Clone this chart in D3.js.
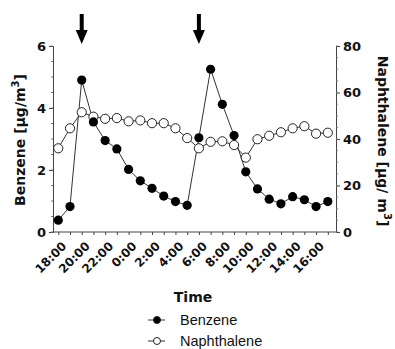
<!DOCTYPE html>
<html><head><meta charset="utf-8">
<script src="https://cdn.jsdelivr.net/npm/d3@7"></script>
<style>body{margin:0;background:#fff}</style>
</head><body>
<script>
const hours = d3.range(24); // 18:00 .. 17:00 hourly
const benzene = [0.38,0.82,4.9,3.55,2.95,2.68,2.02,1.65,1.41,1.16,0.98,0.86,3.04,5.25,4.12,3.11,1.94,1.39,1.06,0.91,1.14,1.04,0.82,0.98];
const naphthalene = [36.0,44.6,51.5,49.6,48.7,49.0,47.6,48.0,46.8,46.8,44.6,40.4,36.0,38.8,39.0,37.4,32.0,39.9,41.4,42.9,44.6,45.5,42.3,42.7];
const xTickLabels = ["18:00","20:00","22:00","0:00","2:00","4:00","6:00","8:00","10:00","12:00","14:00","16:00"];
const leftTicks = [0,2,4,6];
const rightTicks = [0,20,40,60,80];
const arrowHours = [2,12];

const W=395,H=349;
const svg=d3.select("body").append("svg").attr("width",W).attr("height",H);
const x=d3.scaleLinear().domain([-0.45,23.7]).range([53,336]);
const yL=d3.scaleLinear().domain([0,6]).range([232,46]);
const yR=d3.scaleLinear().domain([0,80]).range([232,46]);
const bold="'DejaVu Sans',Verdana,sans-serif";

// axes
const gL=svg.append("g").attr("transform","translate(53,0)")
  .call(d3.axisLeft(yL).tickValues(leftTicks).tickSize(4).tickFormat(d3.format("d")));
const gR=svg.append("g").attr("transform","translate(336,0)")
  .call(d3.axisRight(yR).tickValues(rightTicks).tickSize(4).tickFormat(d3.format("d")));
const gX=svg.append("g").attr("transform","translate(0,232)")
  .call(d3.axisBottom(x).tickValues(hours).tickSize(3).tickFormat(""));
gX.select(".domain").attr("d","M53,0H336");
[gL,gR,gX].forEach(g=>{g.selectAll("path,line").attr("stroke","#444").attr("stroke-width",1);
  g.selectAll("text").attr("font-family",bold).attr("font-weight","bold").attr("font-size",13).attr("fill","#111");});
// minor ticks on y axes
svg.append("g").selectAll("line").data(d3.range(0,6.01,0.5)).join("line")
  .attr("x1",51).attr("x2",53).attr("y1",d=>yL(d)).attr("y2",d=>yL(d)).attr("stroke","#777");
svg.append("g").selectAll("line").data(d3.range(0,80.1,5)).join("line")
  .attr("x1",336).attr("x2",338).attr("y1",d=>yR(d)).attr("y2",d=>yR(d)).attr("stroke","#777");

// x tick labels rotated
svg.append("g").selectAll("text").data(xTickLabels).join("text")
  .attr("transform",(d,i)=>`translate(${x(i*2)+3},${241}) rotate(-45)`)
  .attr("text-anchor","end").attr("font-family",bold).attr("font-weight","bold")
  .attr("font-size",12).attr("fill","#111").attr("dy","0.7em").text(d=>d);

// axis titles
const tl=svg.append("text").attr("transform","translate(25,140) rotate(-90)").attr("text-anchor","middle")
  .attr("font-family",bold).attr("font-weight","bold").attr("font-size",14).attr("fill","#111");
tl.append("tspan").text("Benzene [µg/m");
tl.append("tspan").attr("dy",-6).attr("font-size",10).text("3");
tl.append("tspan").attr("dy",6).text("]");
const tr=svg.append("text").attr("transform","translate(378,141) rotate(90)").attr("text-anchor","middle")
  .attr("font-family",bold).attr("font-weight","bold").attr("font-size",14).attr("fill","#111");
tr.append("tspan").text("Naphthalene [µg/ m");
tr.append("tspan").attr("dy",-6).attr("font-size",10).text("3");
tr.append("tspan").attr("dy",6).text("]");
svg.append("text").attr("x",193).attr("y",302).attr("text-anchor","middle")
  .attr("font-family",bold).attr("font-weight","bold").attr("font-size",14).attr("fill","#111").text("Time");

// lines
const lineB=d3.line().x((d,i)=>x(hours[i])).y(d=>yL(d));
const lineN=d3.line().x((d,i)=>x(hours[i])).y(d=>yR(d));
svg.append("path").attr("d",lineN(naphthalene)).attr("fill","none").attr("stroke","#333").attr("stroke-width",1);
svg.append("path").attr("d",lineB(benzene)).attr("fill","none").attr("stroke","#333").attr("stroke-width",1);
svg.append("g").selectAll("circle").data(naphthalene).join("circle")
  .attr("cx",(d,i)=>x(hours[i])).attr("cy",d=>yR(d)).attr("r",4.6)
  .attr("fill","#fff").attr("stroke","#222").attr("stroke-width",1);
svg.append("g").selectAll("circle").data(benzene).join("circle")
  .attr("cx",(d,i)=>x(hours[i])).attr("cy",d=>yL(d)).attr("r",4.6)
  .attr("fill","#000");

// arrows
arrowHours.forEach(h=>{
  const cx=x(h);
  svg.append("rect").attr("x",cx-2).attr("y",14).attr("width",4).attr("height",18).attr("fill","#000");
  svg.append("path").attr("d",`M${cx-6},30L${cx+6},30L${cx},44Z`).attr("fill","#000");
});

// legend
const lg=[{name:"Benzene",fill:"#000",y:320},{name:"Naphthalene",fill:"#fff",y:341}];
lg.forEach(l=>{
  svg.append("line").attr("x1",148).attr("x2",165).attr("y1",l.y).attr("y2",l.y).attr("stroke","#333");
  svg.append("circle").attr("cx",157).attr("cy",l.y).attr("r",3.5).attr("fill",l.fill).attr("stroke","#222");
  svg.append("text").attr("x",180).attr("y",l.y).attr("dy","0.35em")
    .attr("font-family","'Liberation Sans',Arial,sans-serif").attr("font-size",14.5).attr("fill","#111").text(l.name);
});
</script>
</body></html>
